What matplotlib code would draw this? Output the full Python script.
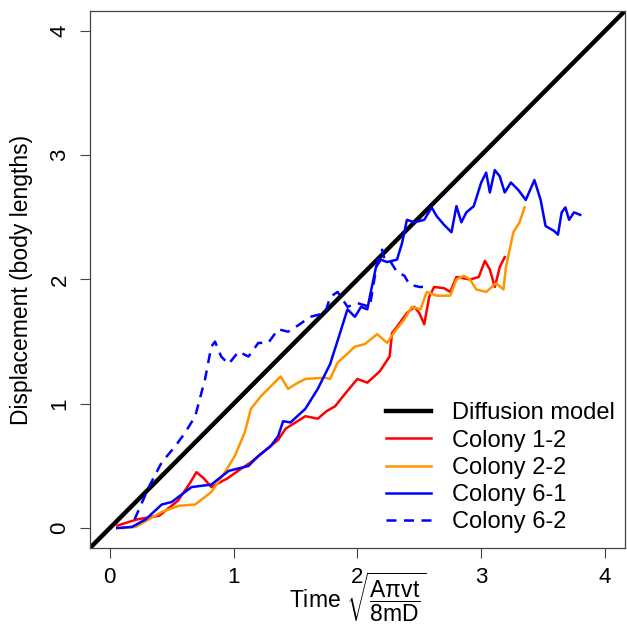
import matplotlib.pyplot as plt

plt.rcParams['font.family'] = ['Liberation Sans', 'DejaVu Sans']
plt.rcParams['mathtext.fontset'] = 'custom'
plt.rcParams['mathtext.rm'] = 'Liberation Sans'
plt.rcParams['mathtext.it'] = 'Liberation Sans'

# Colony 1-2 (red)
red_x = [0.06, 0.22, 0.40, 0.55, 0.64, 0.70, 0.76, 0.82, 0.95, 1.05, 1.14, 1.25, 1.36, 1.42,
         1.50, 1.58, 1.68, 1.75, 1.82, 1.90, 2.00, 2.08, 2.18, 2.26, 2.28, 2.32, 2.40, 2.46,
         2.50, 2.54, 2.58, 2.62, 2.70, 2.75, 2.80, 2.91, 2.98, 3.03, 3.07, 3.11, 3.15, 3.19]
red_y = [0.02, 0.07, 0.10, 0.22, 0.35, 0.45, 0.40, 0.33, 0.40, 0.47, 0.53, 0.62, 0.71, 0.80,
         0.85, 0.90, 0.88, 0.94, 0.98, 1.08, 1.20, 1.17, 1.26, 1.38, 1.57, 1.62, 1.73, 1.78,
         1.73, 1.64, 1.86, 1.94, 1.93, 1.90, 2.02, 2.00, 2.02, 2.15, 2.08, 1.94, 2.10, 2.18]

# Colony 2-2 (orange)
orange_x = [0.10, 0.21, 0.42, 0.56, 0.69, 0.82, 0.93, 1.01, 1.09, 1.14, 1.22, 1.30, 1.38,
            1.44, 1.52, 1.58, 1.74, 1.78, 1.84, 1.98, 2.06, 2.16, 2.24, 2.30, 2.38, 2.44,
            2.51, 2.56, 2.64, 2.75, 2.80, 2.86, 2.91, 2.96, 3.04, 3.12, 3.18, 3.20, 3.26,
            3.31, 3.35]
orange_y = [0.00, 0.01, 0.13, 0.18, 0.19, 0.29, 0.45, 0.58, 0.77, 0.96, 1.06, 1.14, 1.22,
            1.12, 1.17, 1.20, 1.21, 1.20, 1.33, 1.46, 1.48, 1.56, 1.49, 1.58, 1.68, 1.78,
            1.76, 1.90, 1.87, 1.87, 2.00, 2.03, 2.00, 1.92, 1.90, 1.97, 1.92, 2.10, 2.38,
            2.46, 2.58]

# Colony 6-1 (blue solid)
blue_x = [0.06, 0.18, 0.29, 0.42, 0.50, 0.66, 0.82, 0.96, 1.12, 1.20, 1.30, 1.36, 1.40,
          1.46, 1.58, 1.68, 1.78, 1.86, 1.92, 1.98, 2.03, 2.08, 2.10, 2.15, 2.19, 2.24,
          2.32, 2.36, 2.40, 2.46, 2.54, 2.60, 2.64, 2.70, 2.76, 2.80, 2.84, 2.88, 2.94,
          3.00, 3.04, 3.07, 3.11, 3.15, 3.19, 3.24, 3.30, 3.36, 3.43, 3.48, 3.52, 3.59,
          3.62, 3.65, 3.68, 3.71, 3.75, 3.80]
blue_y = [0.00, 0.01, 0.07, 0.19, 0.21, 0.33, 0.35, 0.46, 0.50, 0.58, 0.66, 0.74, 0.86,
          0.85, 0.96, 1.12, 1.32, 1.57, 1.76, 1.70, 1.78, 1.76, 1.86, 2.10, 2.16, 2.14,
          2.16, 2.29, 2.48, 2.46, 2.48, 2.58, 2.51, 2.44, 2.38, 2.59, 2.46, 2.54, 2.59,
          2.78, 2.86, 2.70, 2.88, 2.83, 2.70, 2.78, 2.72, 2.64, 2.80, 2.64, 2.43, 2.39,
          2.36, 2.54, 2.58, 2.48, 2.54, 2.52]

# Colony 6-2 (blue dashed)
dash_x = [0.20, 0.32, 0.42, 0.53, 0.61, 0.69, 0.77, 0.82, 0.85, 0.90, 0.96, 1.04, 1.12,
          1.20, 1.28, 1.36, 1.44, 1.52, 1.62, 1.74, 1.78, 1.84, 1.92, 2.00, 2.10, 2.16,
          2.20, 2.22, 2.27, 2.32, 2.38, 2.42, 2.50, 2.53]
dash_y = [0.07, 0.34, 0.53, 0.66, 0.77, 0.90, 1.20, 1.46, 1.50, 1.38, 1.32, 1.42, 1.38,
          1.49, 1.49, 1.60, 1.58, 1.63, 1.70, 1.73, 1.86, 1.90, 1.78, 1.81, 1.78, 2.14,
          2.24, 2.16, 2.14, 2.06, 2.03, 1.96, 1.94, 1.94]

ticks = [0, 1, 2, 3, 4]

fig = plt.figure(figsize=(6.27, 6.28), dpi=100)
ax = fig.add_axes([0.1435, 0.1274, 0.853, 0.8551])

# diffusion model: displacement = time
ax.axline((0, 0), slope=1, color='black', lw=3.2, label='Diffusion model')
ax.plot(red_x, red_y, color='#ff0000', lw=1.8, label='Colony 1-2')
ax.plot(orange_x, orange_y, color='#ff9500', lw=1.8, label='Colony 2-2')
ax.plot(blue_x, blue_y, color='#0000ff', lw=1.8, label='Colony 6-1')
ax.plot(dash_x, dash_y, color='#0000ff', lw=1.8, dashes=(4, 3), label='Colony 6-2')

ax.set_xlim(-0.16, 4.16)
ax.set_ylim(-0.16, 4.16)
ax.set_xticks(ticks)
ax.set_yticks(ticks)
ax.tick_params(labelsize=16, length=7, width=0.8, color='#444444', pad=7)
for lab in ax.get_yticklabels():
    lab.set_rotation(90)
    lab.set_va('center')
for s in ax.spines.values():
    s.set_linewidth(0.9)
    s.set_color('#444444')

ax.set_ylabel('Displacement (body lengths)', fontsize=16.5, labelpad=12)
ax.set_xlabel(r'Time $\sqrt{\dfrac{\mathrm{A\pi vt}}{\mathrm{8mD}}}$', fontsize=16.5, labelpad=-13)

ax.legend(loc='lower right', bbox_to_anchor=(1.0, 0.01), frameon=False, fontsize=17,
          handlelength=1.9, handletextpad=0.9, labelspacing=0.22, borderaxespad=0)

fig.savefig('out.png', dpi=100)
